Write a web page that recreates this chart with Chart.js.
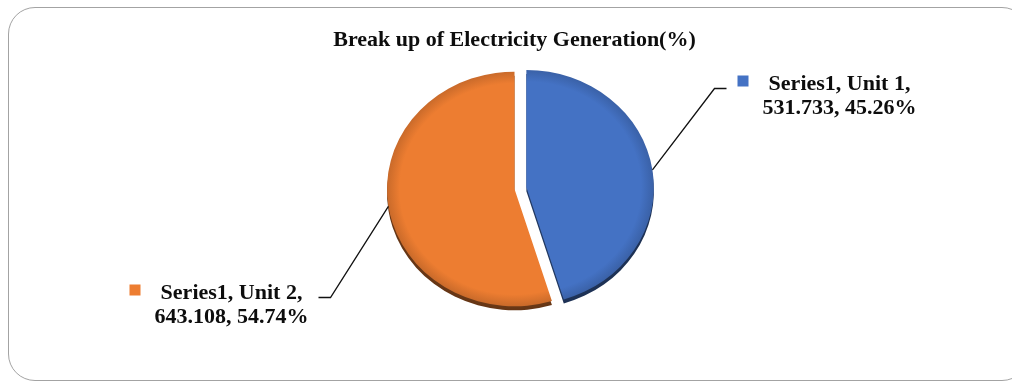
<!DOCTYPE html>
<html>
<head>
<meta charset="utf-8">
<title>Break up of Electricity Generation</title>
<script src="https://cdn.jsdelivr.net/npm/chart.js@4.4.0/dist/chart.umd.min.js"></script>
<style>
  html, body { margin: 0; padding: 0; background: #fff; }
  #wrap { position: relative; width: 1012px; height: 381px; overflow: hidden; }
  #frame {
    position: absolute; left: 8px; top: 7px; width: 1021px; height: 374px;
    border: 1px solid #a3a3a3; border-radius: 27px; box-sizing: border-box;
  }
  canvas { position: absolute; left: 0; top: 0; }
</style>
</head>
<body>
<div id="wrap">
  <div id="frame"></div>
  <canvas id="chart" width="1012" height="381"></canvas>
</div>
<script>
// generation per unit
const seriesName = 'Series1';
const units = ['Unit 1', 'Unit 2'];
const generation = [531.733, 643.108];
const sliceColors = ['#4472C4', '#ED7D31'];

const pieRadius = 127.5;
const tilt = 0.92;          // flatten the pie a little for the 3-D look
const explode = [12, 0];    // pull unit 1 out of the pie
const depth = 4;

const labelFont = 'bold 22px "Liberation Serif", "Times New Roman", serif';

function darker(hex, f) {
  const n = parseInt(hex.slice(1), 16);
  const r = Math.round(((n >> 16) & 255) * f);
  const g = Math.round(((n >> 8) & 255) * f);
  const b = Math.round((n & 255) * f);
  return `rgb(${r},${g},${b})`;
}

const tiltedPie = {
  id: 'tiltedPie',
  beforeDatasetsDraw(chart) {
    const ctx = chart.ctx;
    const arcs = chart.getDatasetMeta(0).data;
    const {x, y} = arcs[0];
    const drawArcs = () => arcs.forEach((arc, i) => {
      const mid = (arc.startAngle + arc.endAngle) / 2;
      ctx.save();
      ctx.translate(Math.cos(mid) * explode[i], Math.sin(mid) * explode[i]);
      arc.draw(ctx);
      ctx.restore();
    });
    // side of the pie
    ctx.save();
    ctx.translate(0, depth);
    ctx.translate(x, y); ctx.scale(1, tilt); ctx.translate(-x, -y);
    ctx.filter = 'brightness(0.5)';
    drawArcs();
    ctx.restore();
    // top face
    ctx.save();
    ctx.translate(x, y); ctx.scale(1, tilt); ctx.translate(-x, -y);
    drawArcs();
    ctx.restore();
    return false;
  },
  afterDraw(chart, args, opts) {
    const ctx = chart.ctx;
    const arcs = chart.getDatasetMeta(0).data;
    const total = generation.reduce((a, b) => a + b, 0);
    ctx.save();
    ctx.font = labelFont;
    arcs.forEach((arc, i) => {
      const mid = (arc.startAngle + arc.endAngle) / 2;
      const r = arc.outerRadius + explode[i];
      const ax = arc.x + Math.cos(mid) * r;
      const ay = arc.y + Math.sin(mid) * r * tilt;
      const [dx, dy, dir] = opts.callouts[i];
      const ex = arc.x + dx, ey = Math.round(arc.y + dy) + 0.5;
      const tx = ex + dir * 12;

      ctx.strokeStyle = '#111';
      ctx.lineWidth = 1.3;
      ctx.beginPath();
      ctx.moveTo(ax, ay);
      ctx.lineTo(ex, ey);
      ctx.lineTo(tx, ey);
      ctx.stroke();

      const lines = [
        `${seriesName}, ${units[i]},`,
        `${generation[i]}, ${(generation[i] / total * 100).toFixed(2)}%`
      ];
      const w = Math.max(...lines.map(s => ctx.measureText(s).width));
      const blockW = 11 + 14 + w;
      const left = dir > 0 ? tx + 11 : tx - 10 - blockW;
      const base = ey + 1;

      ctx.fillStyle = sliceColors[i];
      ctx.fillRect(left, base - 14, 11, 11);

      ctx.fillStyle = '#0d0d0d';
      ctx.textAlign = 'center';
      ctx.textBaseline = 'alphabetic';
      const cx = left + 25 + w / 2;
      ctx.fillText(lines[0], cx, base);
      ctx.fillText(lines[1], cx, base + 24);
    });
    ctx.restore();
  }
};

new Chart(document.getElementById('chart'), {
  type: 'pie',
  data: {
    labels: units,
    datasets: [{
      label: seriesName,
      data: generation,
      borderWidth: 0,
      backgroundColor: (c) => {
        const base = sliceColors[c.dataIndex];
        const area = c.chart.chartArea;
        if (!area) return base;
        const cx = (area.left + area.right) / 2;
        const cy = (area.top + area.bottom) / 2;
        const g = c.chart.ctx.createRadialGradient(cx, cy, 0, cx, cy, pieRadius);
        g.addColorStop(0, base);
        g.addColorStop(0.9, base);
        g.addColorStop(1, darker(base, 0.85));
        return g;
      }
    }]
  },
  options: {
    responsive: false,
    animation: false,
    radius: pieRadius,
    layout: { padding: { left: 17, right: 0, top: 0, bottom: 67 } },
    plugins: {
      legend: { display: false },
      tooltip: { enabled: false },
      title: {
        display: true,
        text: 'Break up of Electricity Generation(%)',
        color: '#0d0d0d',
        font: { family: '"Liberation Serif", "Times New Roman", serif', size: 22, weight: 'bold' },
        padding: { top: 27.5, bottom: 10 }
      },
      tiltedPie: {
        // elbow of each leader line, relative to the pie centre, and tail direction
        callouts: [[200, -101, 1], [-184, 108, -1]]
      }
    }
  },
  plugins: [tiltedPie]
});
</script>
</body>
</html>
